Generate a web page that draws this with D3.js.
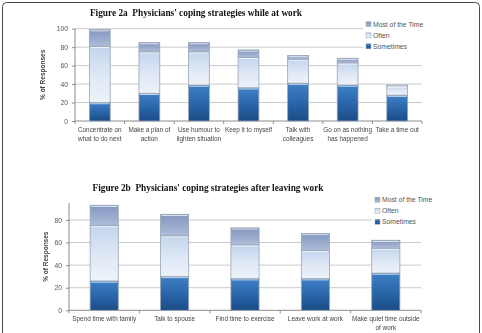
<!DOCTYPE html>
<html>
<head>
<meta charset="utf-8">
<script src="https://cdn.jsdelivr.net/npm/d3@7"></script>
<style>
  body { margin: 0; background: #fff; }
  svg { opacity: 0.999; }
  text { font-family: "Liberation Sans", Arial, sans-serif; }
  .title { font-family: "Liberation Serif", "Times New Roman", serif; font-weight: bold; font-size: 9.3px; fill: #111; white-space: pre; }
  .axis text { font-size: 6.8px; fill: #555; }
  .axis path, .axis line { stroke: #8c8c8c; }
  .ylab { font-size: 6.5px; font-weight: bold; fill: #444; }
  .legend text { font-size: 6.8px; fill: #555; }
  .cat { font-size: 6.4px; fill: #444; }
</style>
</head>
<body>
<div id="chart"></div>
<script>
// Figure 2a values (% of responses)
var catsA = ["Concentrate on\nwhat to do next", "Make a plan of\naction", "Use humour to\nlighten situation",
             "Keep it to myself", "Talk with\ncolleagues", "Go on as nothing\nhas happened", "Take a time out"];
var sometimesA = [20, 30, 39, 36, 41, 39, 28];
var oftenA     = [61, 45, 36, 33, 26, 24, 10];
var mostA      = [18, 10, 10, 8, 4, 5, 1];

// Figure 2b values
var catsB = ["Spend time with family", "Talk to spouse", "Find time to exercise",
             "Leave work at work", "Make quiet time outside\nof work"];
var sometimesB = [26, 30, 28, 28, 33];
var oftenB     = [49, 36, 30, 25, 22];
var mostB      = [18, 19, 15, 15, 7];

var seriesNames = ["Sometimes", "Often", "Most of the Time"];
var ticksA = [0, 20, 40, 60, 80, 100];
var ticksB = [0, 20, 40, 60, 80];

var width = 482, height = 333;

var svg = d3.select("#chart").append("svg")
  .attr("width", width)
  .attr("height", height);

// gradients for the three series
var defs = svg.append("defs");
var grads = {
  "Sometimes": ["#3f80c6", "#2a66aa", "#1b4c86"],
  "Often": ["#c2d4ec", "#dde7f5", "#eef3fa"],
  "Most of the Time": ["#8497bf", "#97a8cb", "#aebdd8"]
};
seriesNames.forEach(function(s, i) {
  var g = defs.append("linearGradient").attr("id", "g" + i)
    .attr("x1", 0).attr("y1", 0).attr("x2", 0).attr("y2", 1);
  grads[s].forEach(function(c, j) {
    g.append("stop").attr("offset", (j * 50) + "%").attr("stop-color", c);
  });
});

// outer frame
svg.append("rect")
  .attr("x", 2.5).attr("y", 2.5)
  .attr("width", 477).attr("height", 345)
  .attr("rx", 4)
  .attr("fill", "none")
  .attr("stroke", "#4a4a4a");

function drawChart(opts) {
  var cats = opts.cats;
  var data = cats.map(function(c, i) {
    return { cat: c, Sometimes: opts.s[i], Often: opts.o[i], "Most of the Time": opts.m[i] };
  });
  var stacked = d3.stack().keys(seriesNames)(data);

  var x = d3.scaleBand().domain(cats).range([opts.x0, opts.x1])
    .paddingInner(opts.pad).paddingOuter(opts.pad / 2);
  var y = d3.scaleLinear().domain([0, opts.ymax]).range([opts.y0, opts.y1]);

  var g = svg.append("g");

  // gridlines
  g.selectAll(".grid").data(opts.ticks.filter(function(d) { return d > 0; }))
    .enter().append("line")
    .attr("x1", opts.x0).attr("x2", opts.x1)
    .attr("y1", function(d) { return y(d); })
    .attr("y2", function(d) { return y(d); })
    .attr("stroke", "#bdbdbd").attr("stroke-width", 0.8);

  // y axis
  g.append("g").attr("class", "axis")
    .attr("transform", "translate(" + opts.x0 + ",0)")
    .call(d3.axisLeft(y).tickValues(opts.ticks).tickSize(3).tickPadding(4))
    .call(function(a) { a.select(".domain").attr("d", "M0," + opts.y0 + "V" + opts.y1); });

  // x axis line with ticks between categories
  g.append("line").attr("x1", opts.x0).attr("x2", opts.x1)
    .attr("y1", opts.y0).attr("y2", opts.y0).attr("stroke", "#8c8c8c");
  var step = x.step();
  g.selectAll(".xt").data(d3.range(cats.length + 1))
    .enter().append("line")
    .attr("x1", function(i) { return opts.x0 + i * step; })
    .attr("x2", function(i) { return opts.x0 + i * step; })
    .attr("y1", opts.y0).attr("y2", opts.y0 + 3)
    .attr("stroke", "#8c8c8c");

  // category labels
  cats.forEach(function(c) {
    var t = g.append("text").attr("class", "cat")
      .attr("text-anchor", "middle")
      .attr("x", x(c) + x.bandwidth() / 2)
      .attr("y", opts.y0 + 11);
    c.split("\n").forEach(function(line, k) {
      t.append("tspan").attr("x", x(c) + x.bandwidth() / 2)
        .attr("dy", k === 0 ? 0 : 9).text(line);
    });
  });

  // bars
  stacked.forEach(function(layer, li) {
    var lg = g.append("g");
    lg.selectAll("rect").data(layer).enter().append("rect")
      .attr("x", function(d) { return x(d.data.cat); })
      .attr("y", function(d) { return y(d[1]); })
      .attr("width", x.bandwidth())
      .attr("height", function(d) { return Math.max(0, y(d[0]) - y(d[1])); })
      .attr("fill", "url(#g" + li + ")")
      .attr("stroke", "#9aa6b6").attr("stroke-width", 0.8);
    // highlight line on top of each segment
    lg.selectAll("line").data(layer).enter().append("line")
      .attr("x1", function(d) { return x(d.data.cat) + 1; })
      .attr("x2", function(d) { return x(d.data.cat) + x.bandwidth() - 1; })
      .attr("y1", function(d) { return y(d[1]) + 1.2; })
      .attr("y2", function(d) { return y(d[1]) + 1.2; })
      .attr("stroke", "#ffffff").attr("stroke-opacity", 0.7).attr("stroke-width", 1);
  });

  // y label
  svg.append("text").attr("class", "ylab")
    .attr("text-anchor", "middle")
    .attr("transform", "translate(" + opts.ylx + "," + ((opts.y0 + opts.y1) / 2) + ") rotate(-90)")
    .text("% of Responses");

  // title
  svg.append("text").attr("class", "title")
    .attr("x", opts.tx).attr("y", opts.ty)
    .attr("text-anchor", "middle")
    .text(opts.title);

  // legend with white background
  var leg = svg.append("g").attr("class", "legend")
    .attr("transform", "translate(" + opts.lx + "," + opts.ly + ")");
  leg.append("rect").attr("x", -3).attr("y", -6).attr("width", 62).attr("height", 35).attr("fill", "#fff");
  var order = seriesNames.slice().reverse();
  order.forEach(function(s, i) {
    var idx = seriesNames.indexOf(s);
    leg.append("rect").attr("x", 0).attr("y", i * 11 - 2.5)
      .attr("width", 5).attr("height", 5)
      .attr("fill", "url(#g" + idx + ")").attr("stroke", "#9aa6b6").attr("stroke-width", 0.5);
    leg.append("text").attr("x", 7).attr("y", i * 11 + 2.4).text(s);
  });
}

drawChart({
  cats: catsA, s: sometimesA, o: oftenA, m: mostA,
  x0: 75, x1: 422, y0: 121, y1: 28.7, ymax: 100, ticks: ticksA, pad: 0.58,
  ylx: 45, title: "Figure 2a  Physicians' coping strategies while at work", tx: 196, ty: 16,
  lx: 366, ly: 24.3
});

drawChart({
  cats: catsB, s: sometimesB, o: oftenB, m: mostB,
  x0: 69, x1: 421, y0: 310.3, y1: 203, ymax: 95, ticks: ticksB, pad: 0.6,
  ylx: 48, title: "Figure 2b  Physicians' coping strategies after leaving work", tx: 208, ty: 191,
  lx: 375, ly: 199.7
});
</script>
</body>
</html>
